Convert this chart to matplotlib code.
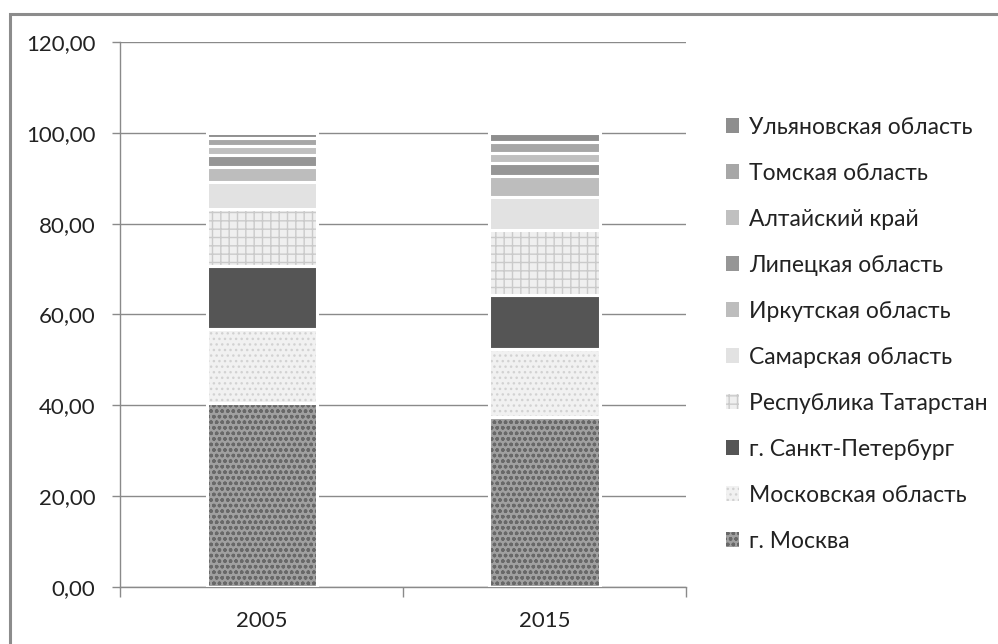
import matplotlib

matplotlib.use("Agg")
import matplotlib.pyplot as plt  # noqa: E402
from matplotlib.patches import Patch, Rectangle  # noqa: E402
from matplotlib.ticker import FuncFormatter, MultipleLocator  # noqa: E402

years = ["2005", "2015"]
regions = [
    "г. Москва",
    "Московская область",
    "г. Санкт-Петербург",
    "Республика Татарстан",
    "Самарская область",
    "Иркутская область",
    "Липецкая область",
    "Алтайский край",
    "Томская область",
    "Ульяновская область",
]
share_2005 = [40.6, 16.1, 13.9, 12.6, 5.9, 3.3, 2.7, 1.9, 1.9, 1.1]
share_2015 = [37.4, 14.9, 12.0, 14.4, 7.1, 4.8, 2.8, 2.1, 2.5, 2.0]

# (face, hatch, hatch colour) per region, bottom to top
styles = [
    ("#a0a0a0", "ooo", "#686868"),
    ("#f1f1f1", "...", "#d2d2d2"),
    ("#555555", None, None),
    ("#efefef", "++", "#cacaca"),
    ("#e2e2e2", None, None),
    ("#bdbdbd", None, None),
    ("#969696", None, None),
    ("#c0c0c0", None, None),
    ("#a7a7a7", None, None),
    ("#8e8e8e", None, None),
]

plt.rcParams["font.family"] = ["Lato", "DejaVu Sans"]

fig = plt.figure(figsize=(9.98, 6.44), dpi=100)
ax = fig.add_axes([0.1207, 0.0885, 0.5667, 0.8463])

x = [0, 1]
width = 0.39
bottom = [0.0, 0.0]
handles = []
for name, v05, v15, (fc, hatch, hc) in zip(regions, share_2005, share_2015, styles):
    vals = [v05, v15]
    if hatch:
        ax.bar(x, vals, width, bottom=bottom, color=fc, hatch=hatch,
               edgecolor=hc, linewidth=0, zorder=3)
    else:
        ax.bar(x, vals, width, bottom=bottom, color=fc, linewidth=0, zorder=3)
    ax.bar(x, vals, width, bottom=bottom, fill=False, edgecolor="white",
           linewidth=2.2, zorder=4)
    handles.append(Patch(facecolor=fc, hatch=hatch, edgecolor=hc if hatch else fc,
                         linewidth=0))
    bottom = [b + v for b, v in zip(bottom, vals)]

ax.set_xlim(-0.5, 1.5)
ax.set_ylim(0, 120)
ax.yaxis.set_major_locator(MultipleLocator(20))
ax.yaxis.set_major_formatter(FuncFormatter(lambda v, _: f"{v:.2f}".replace(".", ",")))
ax.grid(axis="y", color="#8a8a8a", linewidth=1, zorder=0)
ax.set_xticks(x)
ax.set_xticklabels(years)
ax.set_xticks([-0.5, 0.5, 1.5], minor=True)
ax.tick_params(axis="x", which="major", length=0, pad=17, labelsize=16, colors="#222222")
ax.tick_params(axis="x", which="minor", length=7, color="#8a8a8a", width=1)
ax.tick_params(axis="y", length=6, color="#8a8a8a", width=1, pad=12, labelsize=16,
               labelcolor="#222222")
for s in ["top", "right"]:
    ax.spines[s].set_visible(False)
for s in ["left", "bottom"]:
    ax.spines[s].set_color("#8a8a8a")
    ax.spines[s].set_linewidth(1)

leg = fig.legend(handles[::-1], regions[::-1], loc="upper left",
                 bbox_to_anchor=(0.718, 0.833), frameon=False, fontsize=16.5,
                 handlelength=0.6, handleheight=0.6, handletextpad=0.4,
                 labelspacing=1.09, borderaxespad=0)
for t in leg.get_texts():
    t.set_color("#222222")

# outer chart border (cropped on the right and bottom)
fig.add_artist(Rectangle((10 / 998, -0.05), 1.2, (644 - 14) / 644 + 0.05,
                         transform=fig.transFigure, fill=False,
                         edgecolor="#8c8c8c", linewidth=2.2))

fig.savefig("out.png", dpi=100)
